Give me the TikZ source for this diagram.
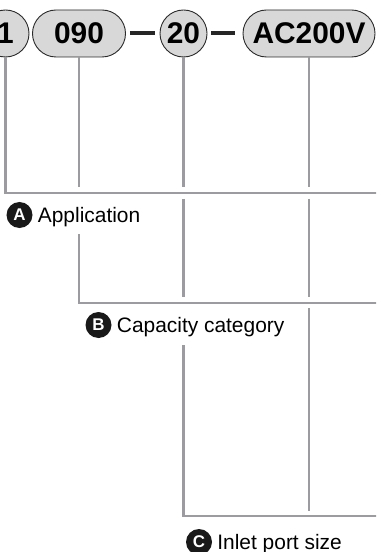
\documentclass[tikz,border=0pt]{standalone}
\usepackage{fontspec}
\setmainfont{Liberation Sans}
\usepackage{xcolor}
\definecolor{pillgray}{HTML}{D8D8D8}
\definecolor{pilledge}{HTML}{2A2A2A}
\definecolor{wiregray}{HTML}{9C9CA0}
\usetikzlibrary{positioning}

\begin{document}
\begin{tikzpicture}[x=1bp, y=-1bp,
        pill/.style={draw=pilledge, line width=0.9bp, fill=pillgray, rounded corners=23.5bp,
            minimum height=47bp, inner sep=0pt, font=\fontsize{30}{30}\selectfont\bfseries},
        roundpill/.style={pill, circle, minimum size=47bp},
        wire/.style={draw=wiregray, line width=2.2bp},
        bar/.style={draw=black!85, line width=4bp},
        tag/.style={circle, fill=black!90, text=white, minimum size=26bp, inner sep=0pt,
            font=\fontsize{17}{17}\selectfont\bfseries},
        caption/.style={inner sep=0pt, text height=15bp, text depth=0pt,
            font=\fontsize{21}{21}\selectfont}]
    \useasboundingbox (0,0) rectangle (376,552);
    \clip (0,0) rectangle (376,552);

    % code blocks
    \node[roundpill] (one) at (5.5,33.5) {1};
    \node[pill, minimum width=93bp] (cap) at (79,33.5) {090};
    \node[roundpill] (port) at (183.5,33.5) {20};
    \node[pill, minimum width=132bp] (volt) at (309,33.5) {AC200V};
    \draw[bar] ([xshift=4bp]cap.east) -- ([xshift=-5bp]port.west);
    \draw[bar] ([xshift=4bp]port.east) -- ([xshift=-8bp]volt.west);

    % leader lines
    \coordinate (aEnd) at (380,193);
    \coordinate (bEnd) at (380,303);
    \coordinate (cEnd) at (380,516);
    \draw[wire] (one.south) |- (aEnd);
    \foreach \nd in {cap, port, volt}
        \draw[wire] (\nd.south) -- (\nd.south |- 0,187);
    \draw[wire] (cap.south |- 0,234) |- (bEnd);
    \foreach \nd in {port, volt}
        \draw[wire] (\nd.south |- 0,199) -- (\nd.south |- 0,297);
    \draw[wire] (port.south |- 0,345) |- (cEnd);
    \draw[wire] (volt.south |- 0,308) -- (volt.south |- 0,511);

    % captions
    \node[tag] (tagA) at (19.5,215) {A};
    \node[caption, right=5bp of tagA] (appl) {Application};
    \node[tag] (tagB) at (98.5,325) {B};
    \node[caption, right=5bp of tagB] (capcat) {Capacity category};
    \node[tag] (tagC) at (199,542) {C};
    \node[caption, right=5bp of tagC] (inlet) {Inlet port size};
\end{tikzpicture}
\end{document}
